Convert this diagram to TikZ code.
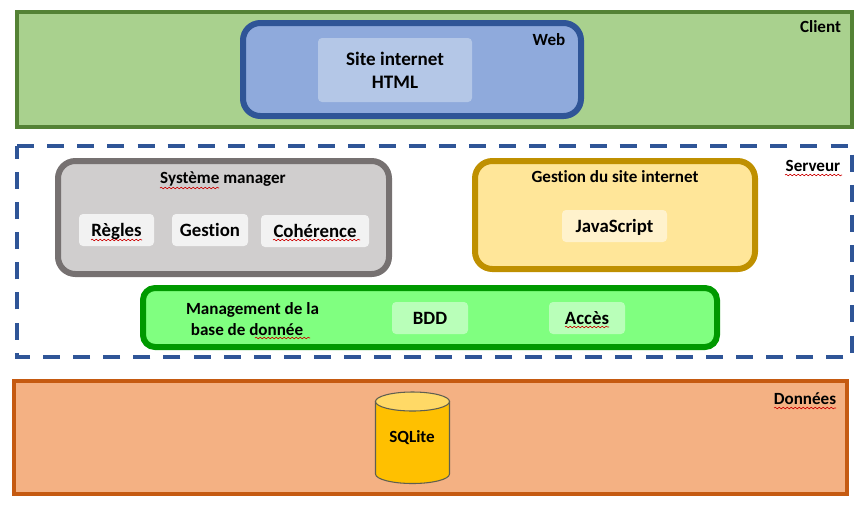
\documentclass[tikz,border=0pt]{standalone}
\usepackage{fontspec}
\setmainfont{Carlito}[Ligatures=NoCommon]
\usetikzlibrary{decorations.pathmorphing}
\definecolor{clientfill}{HTML}{A9D18E}
\definecolor{clientline}{HTML}{548235}
\definecolor{webfill}{HTML}{8FAADC}
\definecolor{webline}{HTML}{2F5597}
\definecolor{webbox}{HTML}{B4C7E7}
\definecolor{sysfill}{HTML}{D0CECE}
\definecolor{sysline}{HTML}{767171}
\definecolor{sysbox}{HTML}{F2F2F2}
\definecolor{gesfill}{HTML}{FFE699}
\definecolor{gesline}{HTML}{BF9000}
\definecolor{gesbox}{HTML}{FFF2CC}
\definecolor{bddfill}{HTML}{80FF80}
\definecolor{bddline}{HTML}{009900}
\definecolor{bddbox}{HTML}{B9FFB9}
\definecolor{datafill}{HTML}{F4B183}
\definecolor{dataline}{HTML}{C55A11}
\definecolor{cylbody}{HTML}{FFC000}
\definecolor{cyltop}{HTML}{FFD966}
\definecolor{cylline}{HTML}{5F5F50}
\tikzset{
  dims/.style 2 args={minimum width=#1*0.75pt,minimum height=#2*0.75pt,inner sep=0pt,outer sep=0pt},
  panel/.style={draw,line width=3pt},
  group/.style={draw,line width=4.5pt,rounded corners=13pt},
  chip/.style={rounded corners=3pt,font=\fontsize{14.1pt}{16pt}\selectfont\bfseries,text height=12pt,text depth=2.5pt},
  big/.style={font=\fontsize{14.3pt}{16pt}\selectfont\bfseries,inner sep=0pt,outer sep=0pt},
  small/.style={font=\fontsize{12.8pt}{15pt}\selectfont\bfseries,inner sep=0pt,outer sep=0pt},
  squig/.style={draw=red!80!black,line width=0.45pt,decorate,decoration={snake,amplitude=0.6pt,segment length=3pt}},
}
\begin{document}
\begin{tikzpicture}[x=0.75pt,y=-0.75pt]
\useasboundingbox (0,0) rectangle (867,508);
% Client
\node[panel,draw=clientline,fill=clientfill,dims={835}{115}] (client) at (434.5,69.5) {};
\node[group,draw=webline,fill=webfill,dims={338}{93}] (web) at (412,69.5) {};
\node[chip,fill=webbox,dims={154}{64}] (site) at (395,70) {};
\node[big,anchor=base] (siteA) at (395,65) {Site internet};
\node[big,anchor=base] (siteB) at (395,88) {HTML};
\node[small,anchor=base] (webT) at (549,45) {Web};
\node[small,anchor=base] (clientT) at (820.5,32) {Client};
% Serveur
\node[dims={835}{211}] (serveur) at (434.5,251.5) {};
\draw[webline,line width=3pt,dash pattern=on 12.75pt off 9.85pt] (serveur.north west) -- (serveur.north east) -- (serveur.south east) -- (serveur.south west) -- cycle;
\node[small,anchor=base] (serveurT) at (813,171) {Serveur};
\node[group,draw=sysline,fill=sysfill,dims={331}{113}] (sys) at (223.5,217.5) {};
\node[small,anchor=base] (sysT) at (223,183) {Système manager};
\node[chip,fill=sysbox,dims={75}{32}] (regles) at (116.5,230) {Règles};
\node[chip,fill=sysbox,dims={76}{32}] (gestion) at (210,230) {Gestion};
\node[chip,fill=sysbox,dims={108}{32}] (coherence) at (315,231) {Cohérence};
\node[group,draw=gesline,fill=gesfill,dims={280}{108}] (ges) at (615,215) {};
\node[small,anchor=base] (gesT) at (615,182) {Gestion du site internet};
\node[chip,fill=gesbox,dims={105}{32}] (js) at (614.5,226) {JavaScript};
\node[group,draw=bddline,fill=bddfill,dims={574}{59},rounded corners=9pt] (mgmt) at (430,317.5) {};
\node[small,anchor=base] (mgA) at (252.5,314) {Management de la};
\node[small,anchor=base] (mgB) at (247,335) {base de donnée};
\node[chip,fill=bddbox,dims={76}{32}] (bdd) at (430,318) {BDD};
\node[chip,fill=bddbox,dims={76}{32}] (acces) at (587,318) {Accès};
% Données
\node[panel,draw=dataline,fill=datafill,dims={833}{113}] (data) at (430.5,437.5) {};
\node[small,anchor=base] (dataT) at (805,404) {Données};
% Cylinder
\draw[cylline,line width=0.8pt,fill=cylbody] (375.5,401.5) -- (375.5,474) arc[start angle=180,end angle=0,x radius=37,y radius=9.5] -- (449.5,401.5) -- cycle;
\draw[cylline,line width=0.8pt,fill=cyltop] (412.5,401.5) ellipse[x radius=37,y radius=9.5];
\node[small,anchor=base] (sqlite) at (412,442) {SQLite};
% Spell-check marks
\path[squig] (160,188) -- (219,188);
\path[squig] (91,240) -- (142,240);
\path[squig] (273,240) -- (360,240);
\path[squig] (255,338) -- (310,338);
\path[squig] (565,327) -- (609,327);
\path[squig] (785,175) -- (842,175);
\path[squig] (774,408) -- (836,408);
\end{tikzpicture}
\end{document}
